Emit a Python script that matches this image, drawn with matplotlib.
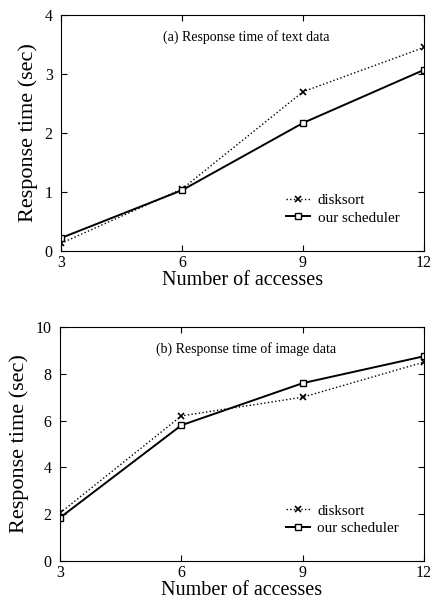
import numpy as np
import matplotlib
matplotlib.use('Agg')
import matplotlib.pyplot as plt

plt.rcParams['font.family'] = 'Liberation Serif'

# number of accesses
accesses = [3, 6, 9, 12]

# (a) text data
text_disksort = [0.13, 1.05, 2.70, 3.45]
text_ours = [0.22, 1.03, 2.17, 3.07]

# (b) image data
image_disksort = [2.05, 6.2, 7.0, 8.5]
image_ours = [1.85, 5.8, 7.6, 8.75]

fig = plt.figure(figsize=(4.31, 6.03), dpi=100)
ax1 = fig.add_axes([61/431, 1 - 251/603, 363/431, 236/603])
ax2 = fig.add_axes([60/431, 1 - 561/603, 364/431, 234/603])

def draw(ax, ds, ours, ymax, yticks, title):
    ax.plot(accesses, ds, color='black', linestyle=':', linewidth=1.0,
            marker='x', markersize=4, markeredgewidth=1.2, label='disksort')
    ax.plot(accesses, ours, color='black', linestyle='-', linewidth=1.4,
            marker='s', markersize=4, markerfacecolor='white',
            markeredgewidth=1.0, label='our scheduler')
    ax.set_xlim(3, 12)
    ax.set_ylim(0, ymax)
    ax.set_xticks(accesses)
    ax.set_yticks(yticks)
    ax.tick_params(direction='in', top=True, right=True, labelsize=11.5,
                   length=4, width=0.8)
    ax.tick_params(axis='x', pad=3)
    ax.tick_params(axis='y', pad=6)
    ax.set_xlabel('Number of accesses', fontsize=14.5, labelpad=0)
    ax.set_ylabel('Response time (sec)', fontsize=16, labelpad=5)
    ax.text(0.51, 0.905, title, transform=ax.transAxes, ha='center',
            va='center', fontsize=10)
    ax.legend(loc='lower left', bbox_to_anchor=(0.6, 0.08), frameon=False,
              fontsize=10.8, handlelength=1.6, handletextpad=0.5,
              labelspacing=0.25, borderpad=0)
    for s in ax.spines.values():
        s.set_linewidth(0.8)

draw(ax1, text_disksort, text_ours, 4, [0, 1, 2, 3, 4],
     '(a) Response time of text data')
draw(ax2, image_disksort, image_ours, 10, [0, 2, 4, 6, 8, 10],
     '(b) Response time of image data')

fig.savefig('out.png', dpi=100)
